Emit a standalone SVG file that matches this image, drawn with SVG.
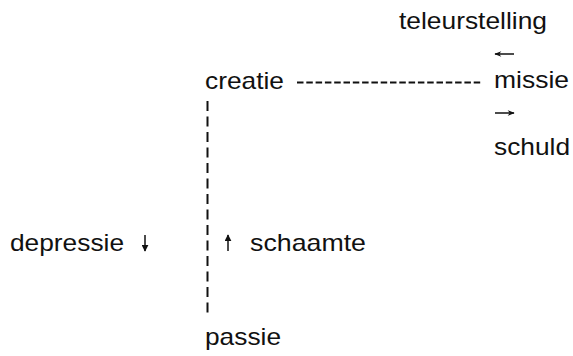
<svg xmlns="http://www.w3.org/2000/svg" width="573" height="356" viewBox="0 0 573 356">
<style>
text{font-family:"Liberation Sans",Arial,sans-serif;font-size:24px;fill:#111}
.dash{stroke:#111;stroke-width:2;fill:none}
.arr{stroke:#111;stroke-width:1.5;fill:none}
</style>
<defs>
<marker id="ah" viewBox="0 0 10 10" refX="9" refY="5" markerWidth="7" markerHeight="7" orient="auto" markerUnits="userSpaceOnUse">
<path d="M0,0 L10,5 L0,10 z" fill="#111"/>
</marker>
<marker id="ah2" viewBox="0 0 10 10" refX="9" refY="5" markerWidth="8" markerHeight="7" orient="auto" markerUnits="userSpaceOnUse">
<path d="M0,1 L10,5 L0,9 L3,5 z" fill="#111"/>
</marker>
</defs>
<rect width="573" height="356" fill="#fff"/>
<g id="teleurstelling"><text x="399" y="29" textLength="148" lengthAdjust="spacingAndGlyphs">teleurstelling</text></g>
<g id="creatie"><text x="205" y="89" textLength="79" lengthAdjust="spacingAndGlyphs">creatie</text></g>
<g id="missie"><text x="494" y="88" textLength="75" lengthAdjust="spacingAndGlyphs">missie</text></g>
<g id="schuld"><text x="494" y="155" textLength="76" lengthAdjust="spacingAndGlyphs">schuld</text></g>
<g id="depressie"><text x="10" y="251" textLength="114" lengthAdjust="spacingAndGlyphs">depressie</text></g>
<g id="schaamte"><text x="250" y="251" textLength="116" lengthAdjust="spacingAndGlyphs">schaamte</text></g>
<g id="passie"><text x="205" y="345" textLength="76" lengthAdjust="spacingAndGlyphs">passie</text></g>
<g id="connectors">
<line class="dash" x1="297" y1="82.5" x2="483" y2="82.5" stroke-dasharray="6.5 2.8"/>
<line class="dash" x1="207.5" y1="101" x2="207.5" y2="318" stroke-dasharray="10 5.5"/>
<line class="arr" x1="514" y1="54" x2="495" y2="54" marker-end="url(#ah2)"/>
<line class="arr" x1="495" y1="113" x2="514" y2="113" marker-end="url(#ah2)"/>
<line class="arr" x1="145" y1="235" x2="145" y2="251" marker-end="url(#ah)"/>
<line class="arr" x1="228" y1="251" x2="228" y2="235" marker-end="url(#ah)"/>
</g>
</svg>
